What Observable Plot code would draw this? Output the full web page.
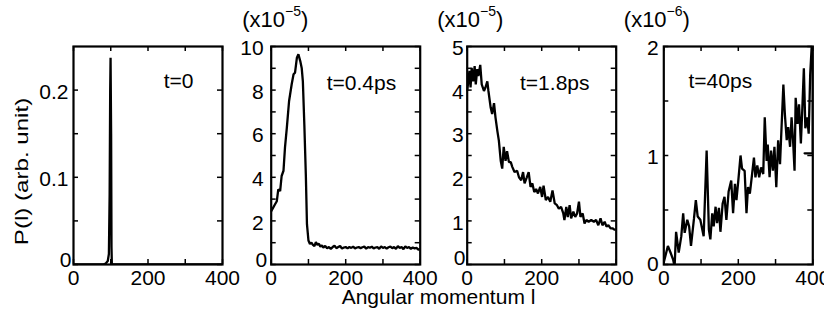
<!DOCTYPE html>
<html><head><meta charset="utf-8">
<script src="https://cdn.jsdelivr.net/npm/d3@7"></script>
<script src="https://cdn.jsdelivr.net/npm/@observablehq/plot@0.6"></script>
<style>
body{margin:0;background:#fff;}
#chart{position:relative;width:824px;height:324px;font-family:"Liberation Sans",Arial,sans-serif;}
#chart svg{position:absolute;left:0;top:0;}
</style></head><body><div id="chart"></div>
<script>
// ---- data ----
const xTicks = [0, 100, 200, 300, 400];
const xTickLabels = [0, 200, 400];
const xTitle = "Angular momentum l";
const yTitle = "P(l) (arb. unit)";
const panelLabels = ["t=0", "t=0.4ps", "t=1.8ps", "t=40ps"];
const exponents = [null, "\u22125", "\u22125", "\u22126"];
const yDomains = [[0, 0.25], [0, 10], [0, 5], [0, 2]];
const yTicksAll = [[0, 0.05, 0.1, 0.15, 0.2], [0,1,2,3,4,5,6,7,8,9,10], [0,0.5,1,1.5,2,2.5,3,3.5,4,4.5,5], [0,0.5,1,1.5,2]];
const yTickLabels = [[0.1, 0.2], [2,4,6,8,10], [1,2,3,4,5], [1,2]];

const t0 = [[0,0],[80,0],[86,0.001],[92,0.004],[95,0.012],[97,0.08],[98.5,0.2],[99.5,0.237],[101,0.15],[102,0.02],[103,0],[400,0]];
const t04 = [[0,2.45],[5,2.6],[10,2.75],[15,2.9],[19,3.45],[24,3.37],[28,4.06],[33,4.3],[37,5.36],[42,6.28],[48,7.5],[55,8.27],[60,8.73],[64,8.8],[69,9.49],[73,9.64],[78,9.33],[82,9.0],[85,8.4],[89,6.4],[93,4.1],[96,1.85],[100,1.1],[104,0.94],[108,1.0],[112,0.9],[116,0.85],[120,1.03],[124,0.9],[128,0.95],[132,0.82],[136,0.88],[140,0.78],[145,0.85],[150,0.75],[155,0.8],[160,0.72],[165,0.8],[170,0.86],[175,0.75],[180,0.8],[185,0.85],[190,0.73],[195,0.78],[200,0.8],[205,0.74],[210,0.8],[215,0.76],[220,0.82],[225,0.74],[230,0.78],[235,0.8],[240,0.75],[245,0.79],[250,0.82],[255,0.73],[260,0.8],[265,0.77],[270,0.82],[275,0.74],[280,0.78],[285,0.8],[290,0.72],[295,0.83],[300,0.76],[305,0.8],[310,0.73],[315,0.79],[320,0.82],[325,0.75],[330,0.8],[335,0.72],[340,0.84],[345,0.76],[350,0.8],[355,0.7],[360,0.83],[365,0.76],[370,0.8],[375,0.72],[380,0.78],[385,0.74],[390,0.76],[395,0.68],[400,0.7]];
const t18 = [[0,4.0],[2,4.13],[6,4.44],[9,4.06],[12,4.51],[16,4.2],[20,4.55],[23,4.13],[27,4.48],[30,4.32],[35,4.58],[39,4.13],[45,3.98],[49,4.06],[54,4.2],[57,3.98],[63,3.6],[67,3.45],[72,3.7],[76,3.37],[81,3.06],[85,2.84],[90,2.38],[94,2.2],[98,2.7],[103,2.38],[107,2.6],[112,2.35],[117,2.35],[121,2.24],[127,2.12],[134,2.15],[139,2.0],[145,1.93],[150,2.12],[154,1.86],[160,2.0],[165,2.12],[170,1.78],[175,1.86],[180,1.66],[185,1.73],[190,1.63],[196,1.78],[201,1.55],[205,1.81],[211,1.48],[217,1.55],[223,1.44],[229,1.7],[235,1.4],[241,1.36],[246,1.28],[252,1.32],[258,1.17],[261,1.02],[266,1.32],[270,1.09],[275,1.36],[279,1.06],[285,1.21],[290,1.09],[295,1.17],[300,1.44],[304,1.09],[310,1.17],[315,0.94],[320,1.02],[326,0.98],[333,1.02],[340,0.98],[346,1.02],[352,0.9],[358,1.06],[363,0.9],[369,0.98],[374,0.87],[379,0.9],[385,0.83],[390,0.83],[395,0.8],[400,0.8]];
const t40 = [[0,0.02],[11,0.17],[18,0.11],[25,0.045],[29,-0.02],[33,0.30],[40,0.11],[47,0.26],[52,0.47],[56,0.29],[63,0.41],[68,0.35],[73,0.17],[81,0.42],[86,0.59],[91,0.44],[98,0.41],[107,0.26],[115,1.045],[121,0.32],[125,0.23],[130,0.47],[134,0.35],[139,0.53],[143,0.38],[148,0.52],[152,0.30],[158,0.56],[163,0.62],[168,0.41],[174,0.67],[181,0.77],[186,0.47],[191,0.74],[195,0.59],[200,0.77],[206,1.0],[210,0.88],[217,0.86],[222,0.47],[226,0.71],[231,0.65],[237,0.83],[242,0.98],[246,0.80],[251,0.91],[256,0.80],[261,0.89],[267,0.83],[271,1.35],[276,0.95],[279,1.1],[284,0.80],[288,1.045],[293,0.86],[297,1.08],[302,0.71],[307,1.14],[312,0.92],[315,1.17],[321,1.65],[325,1.38],[330,1.14],[334,1.26],[339,1.08],[343,1.35],[347,1.14],[351,0.86],[354,1.53],[359,1.29],[363,1.47],[368,1.11],[372,1.44],[376,1.8],[380,1.25],[385,1.35],[389,1.2],[393,1.74],[397,2.0],[400,1.9],[400,1.02],[378,1.02]];
const series = [t0, t04, t18, t40];

// ---- layout (positions / styles) ----
const W = 824, H = 324, TOP = 46, BOTTOM = 264;
const layout = [
  {left: 73,    right: 222,   ylDx: -5,   zDx: -2,   zDy: -4, lab: {anchor: "top-right", ta: "end", dx: -29, dy: 35}, sc: null},
  {left: 270.7, right: 419.7, ylDx: -7.5, zDx: -4,   zDy: -4, lab: {anchor: "top-right", ta: "end", dx: -24, dy: 36.5}, sc: -29},
  {left: 466.7, right: 615.7, ylDx: -3.5, zDx: -1.7, zDy: -6, lab: {anchor: "top-right", ta: "end", dx: -26.7, dy: 36.5}, sc: -30},
  {left: 663.3, right: 812.3, ylDx: -5,   zDx: -5,   zDy: 0,  lab: {anchor: "top-left", ta: "start", dx: 24.7, dy: 35}, sc: -40}
];
const FS = 21;
const ns = "http://www.w3.org/2000/svg";
const fmt = d => String(d);
const chart = document.getElementById("chart");

series.forEach((data, i) => {
  const L = layout[i];
  const fw = L.right - L.left, fh = BOTTOM - TOP;
  const marks = [
    Plot.ruleX(xTicks, {x: d => d, insetTop: fh - 5, stroke: "black", strokeWidth: 1.5}),
    Plot.ruleX(xTicks, {x: d => d, insetBottom: fh - 5, stroke: "black", strokeWidth: 1.5}),
    Plot.ruleY(yTicksAll[i], {y: d => d, insetRight: fw - 5, stroke: "black", strokeWidth: 1.5}),
    Plot.ruleY(yTicksAll[i], {y: d => d, insetLeft: fw - 5, stroke: "black", strokeWidth: 1.5}),
    Plot.line(data, {x: d => d[0], y: d => d[1], stroke: "black", strokeWidth: 2.3, strokeLinejoin: "miter", clip: true}),
    Plot.frame({stroke: "black", strokeWidth: 2.2}),
    Plot.text(xTickLabels, {x: d => d, frameAnchor: "bottom", lineAnchor: "top", dy: 6, text: fmt, fontSize: FS, fill: "black"}),
    Plot.text(yTickLabels[i], {y: d => d, frameAnchor: "left", textAnchor: "end", lineAnchor: "middle", dx: L.ylDx, dy: 2, text: fmt, fontSize: FS, fill: "black"}),
    Plot.text([0], {y: d => d, frameAnchor: "left", textAnchor: "end", lineAnchor: "middle", dx: L.zDx, dy: L.zDy, text: fmt, fontSize: FS, fill: "black"}),
    Plot.text([panelLabels[i]], {frameAnchor: L.lab.anchor, textAnchor: L.lab.ta, lineAnchor: "middle", dx: L.lab.dx, dy: L.lab.dy, text: d => d, fontSize: FS, fill: "black"})
  ];
  if (exponents[i]) {
    marks.push(Plot.text([exponents[i]], {frameAnchor: "top-left", textAnchor: "start", lineAnchor: "bottom", dx: L.sc, dy: -19.3, text: d => d, fontSize: 22, fill: "black"}));
  }
  if (i === 0) {
    marks.push(Plot.text([yTitle], {frameAnchor: "left", rotate: -90, textAnchor: "middle", lineAnchor: "middle", dx: -51, dy: 16, text: d => d, fontSize: 18, fill: "black"}));
  }
  if (i === 1) {
    marks.push(Plot.text([xTitle], {frameAnchor: "bottom-right", textAnchor: "middle", lineAnchor: "bottom", dx: 18.3, dy: 39, text: d => d, fontSize: FS, fill: "black"}));
  }
  const svg = Plot.plot({
    width: W, height: H,
    marginTop: TOP, marginBottom: H - BOTTOM, marginLeft: L.left, marginRight: W - L.right,
    x: {domain: [0, 400], axis: null},
    y: {domain: yDomains[i], axis: null},
    style: "background:transparent;overflow:visible;max-width:none;font-family:'Liberation Sans',Arial,sans-serif;color:black;",
    marks
  });
  svg.querySelectorAll("text").forEach(t => {
    if (exponents[i] && t.textContent === exponents[i]) {
      const exp = t.textContent;
      t.textContent = "(x10";
      const sup = document.createElementNS(ns, "tspan");
      sup.setAttribute("font-size", "14");
      sup.setAttribute("dy", "-11.5");
      sup.textContent = exp;
      t.appendChild(sup);
      const cl = document.createElementNS(ns, "tspan");
      cl.setAttribute("font-size", "22");
      cl.setAttribute("dy", "11.5");
      cl.textContent = ")";
      t.appendChild(cl);
    } else if (t.textContent === yTitle) {
      const tr = t.getAttribute("transform") || "";
      t.setAttribute("transform", tr + " scale(1.34,1)");
    }
  });
  chart.appendChild(svg);
});
</script></body></html>
